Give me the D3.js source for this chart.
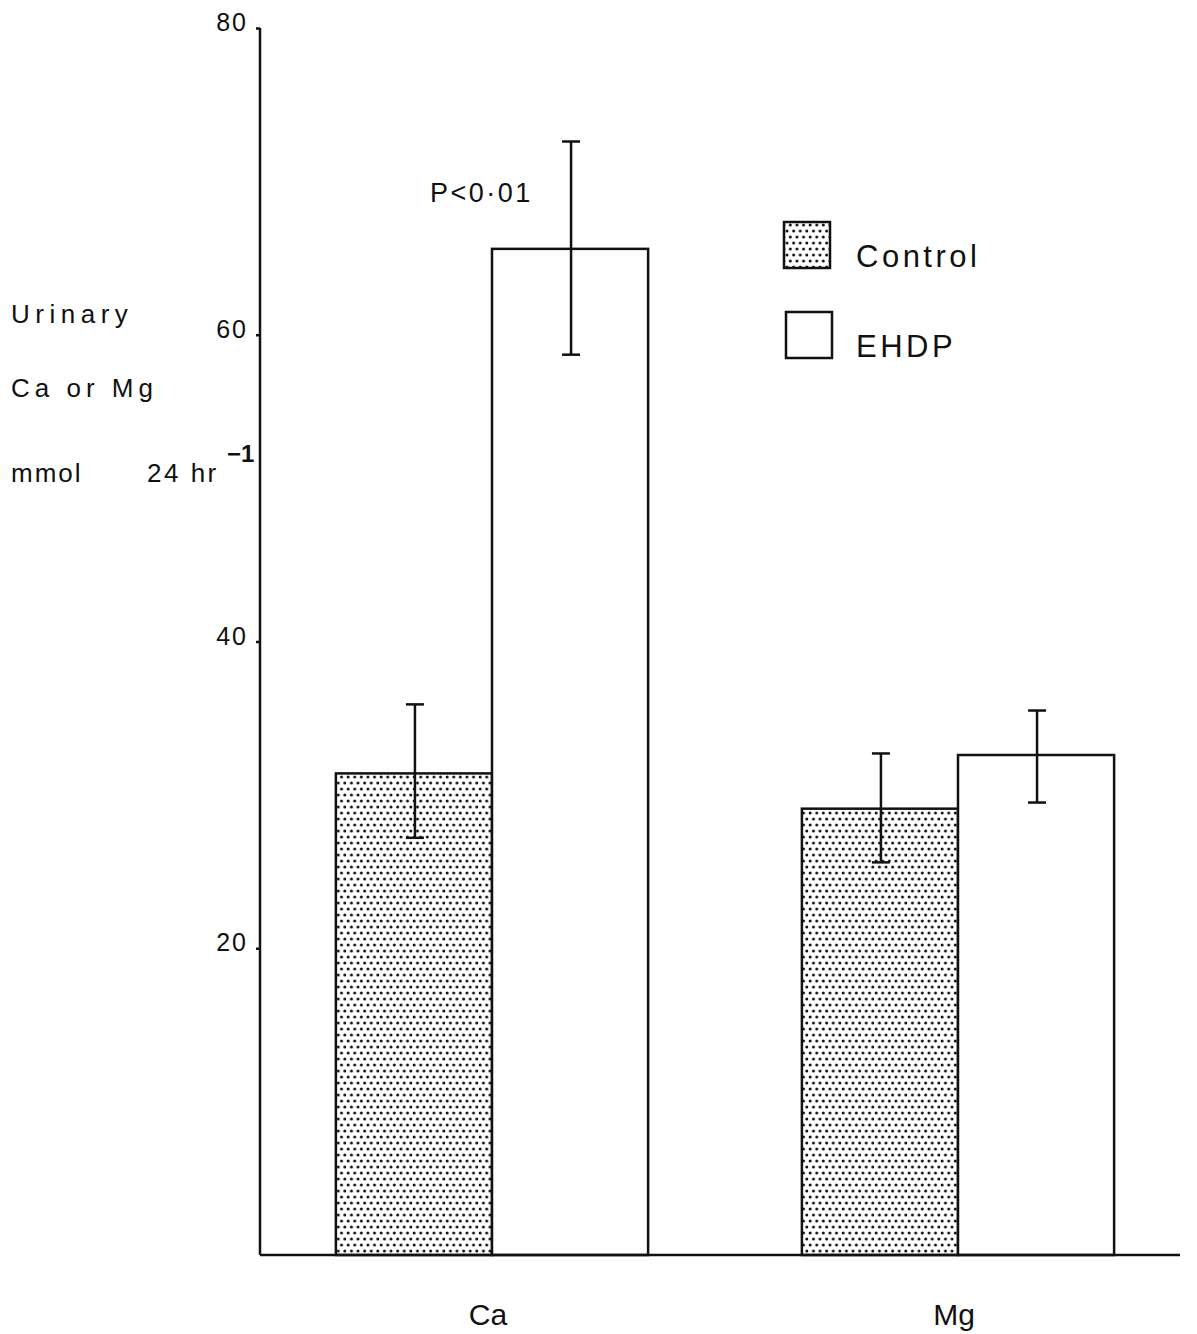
<!DOCTYPE html>
<html>
<head>
<meta charset="utf-8">
<script src="https://cdn.jsdelivr.net/npm/d3@7"></script>
<style>
  body { margin: 0; background: #fff; }
  text { font-family: "Liberation Sans", Arial, sans-serif; fill: #111; }
</style>
</head>
<body>
<svg id="chart" width="1197" height="1334"></svg>
<script>
// Urinary Ca / Mg, control vs EHDP
const categories = ['Ca', 'Mg'];
const series = ['Control', 'EHDP'];
const controlMean = [31.4, 29.1];
const controlHigh = [35.9, 32.7];
const controlLow = [27.2, 25.6];
const ehdpMean = [65.6, 32.6];
const ehdpHigh = [72.6, 35.5];
const ehdpLow = [58.7, 29.5];
const yTicks = [20, 40, 60, 80];

const svg = d3.select('#chart');

const y = d3.scaleLinear().domain([0, 80]).range([1255, 28]);
const x = d3.scaleBand().domain(categories).range([259, 1191])
    .paddingInner(0.33).paddingOuter(0.165);
const xs = d3.scaleBand().domain(series).range([0, x.bandwidth()]);

// dotted fill for control bars
const defs = svg.append('defs');
const pat = defs.append('pattern')
    .attr('id', 'dots')
    .attr('patternUnits', 'userSpaceOnUse')
    .attr('width', 6.6).attr('height', 12);
pat.append('rect').attr('width', 6.6).attr('height', 12).attr('fill', '#fff');
pat.append('circle').attr('cx', 1.65).attr('cy', 3).attr('r', 1.5).attr('fill', '#111');
pat.append('circle').attr('cx', 4.95).attr('cy', 9).attr('r', 1.5).attr('fill', '#111');

const rows = categories.map((c, i) => [
    { cat: c, s: 'Control', mean: controlMean[i], hi: controlHigh[i], lo: controlLow[i] },
    { cat: c, s: 'EHDP', mean: ehdpMean[i], hi: ehdpHigh[i], lo: ehdpLow[i] }
]).flat();

// bars
svg.append('g').selectAll('rect')
    .data(rows)
    .enter().append('rect')
    .attr('x', d => x(d.cat) + xs(d.s))
    .attr('y', d => y(d.mean))
    .attr('width', xs.bandwidth())
    .attr('height', d => y(0) - y(d.mean))
    .attr('fill', d => d.s === 'Control' ? 'url(#dots)' : '#fff')
    .attr('stroke', '#111')
    .attr('stroke-width', 2.5);

// error bars
const err = svg.append('g').attr('stroke', '#111').attr('stroke-width', 2.5);
rows.forEach(d => {
    const cx = x(d.cat) + xs(d.s) + xs.bandwidth() / 2 + 1;
    err.append('line').attr('x1', cx).attr('x2', cx).attr('y1', y(d.hi)).attr('y2', y(d.lo));
    err.append('line').attr('x1', cx - 9).attr('x2', cx + 9).attr('y1', y(d.hi)).attr('y2', y(d.hi));
    err.append('line').attr('x1', cx - 9).attr('x2', cx + 9).attr('y1', y(d.lo)).attr('y2', y(d.lo));
});

// y axis
const yAxis = svg.append('g')
    .attr('transform', 'translate(260,0)')
    .call(d3.axisLeft(y).tickValues(yTicks).tickSize(4).tickPadding(8).tickFormat(d3.format('d')));
yAxis.select('.domain').attr('d', `M0,${y(80)}V${y(0)}`).attr('stroke', '#111').attr('stroke-width', 2.5);
yAxis.selectAll('.tick line').attr('stroke', '#111').attr('stroke-width', 2.5);
yAxis.selectAll('.tick text')
    .style('font-size', '25px')
    .style('letter-spacing', '2px')
    .style('font-family', '"Liberation Sans", Arial, sans-serif')
    .attr('fill', '#111')
    .attr('dy', '0.1em');

// baseline
svg.append('line')
    .attr('x1', 260).attr('x2', 1180)
    .attr('y1', y(0)).attr('y2', y(0))
    .attr('stroke', '#111').attr('stroke-width', 2.5);

// category labels
svg.append('g').selectAll('text')
    .data(categories)
    .enter().append('text')
    .attr('x', d => x(d) + x.bandwidth() / 2 - 4)
    .attr('y', 1325)
    .attr('text-anchor', 'middle')
    .style('font-size', '30px')
    .text(d => d);

// y label
const ylab = svg.append('g').style('font-size', '26px');
ylab.append('text').attr('x', 11).attr('y', 323).style('letter-spacing', '5.5px').text('Urinary');
ylab.append('text').attr('x', 11).attr('y', 397).style('letter-spacing', '5px').text('Ca or Mg');
ylab.append('text').attr('x', 11).attr('y', 482).style('letter-spacing', '2px').text('mmol');
ylab.append('text').attr('x', 147).attr('y', 482).style('letter-spacing', '2.5px').text('24 hr');
ylab.append('text').attr('x', 227).attr('y', 462).style('font-size', '24px').style('font-weight', 'bold').text('\u22121');

// significance note
svg.append('text')
    .attr('x', 430).attr('y', 202)
    .style('font-size', '27px')
    .style('letter-spacing', '2.5px')
    .text('P<0\u00b701');

// legend
const legend = svg.append('g');
series.forEach((s, i) => {
    const ly = 222 + i * 90;
    legend.append('rect')
        .attr('x', 784 + i * 2).attr('y', ly)
        .attr('width', 46).attr('height', 46)
        .attr('fill', s === 'Control' ? 'url(#dots)' : '#fff')
        .attr('stroke', '#111').attr('stroke-width', 2.5);
    legend.append('text')
        .attr('x', 856).attr('y', ly + 45)
        .style('font-size', '31px')
        .style('letter-spacing', '3.5px')
        .text(s);
});
</script>
</body>
</html>
